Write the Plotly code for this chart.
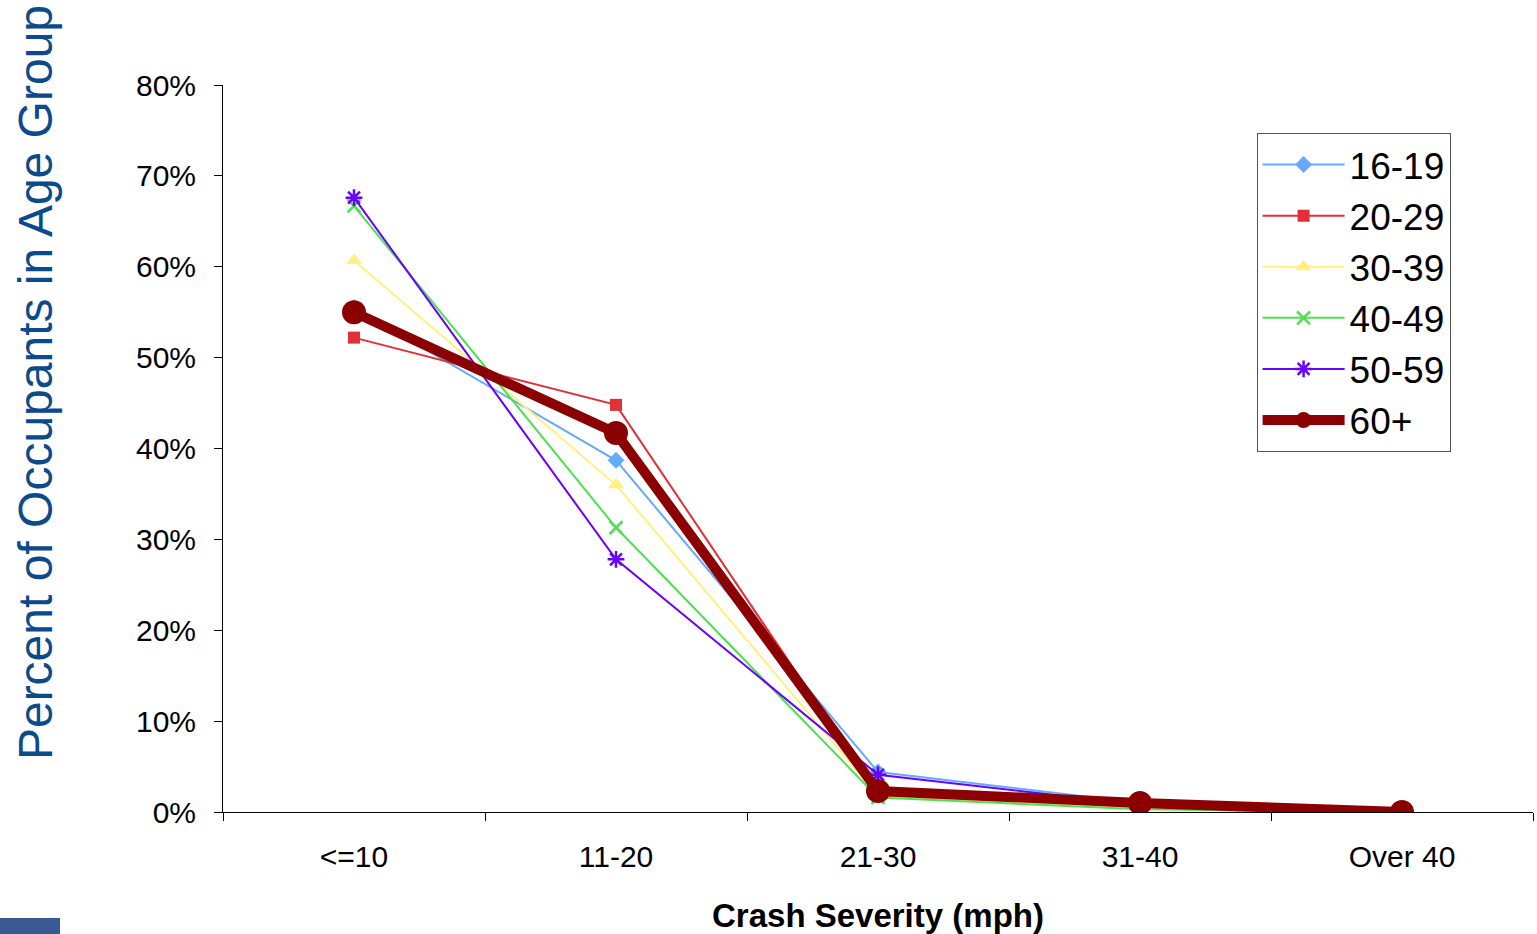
import plotly.graph_objects as go

categories = ["<=10", "11-20", "21-30", "31-40", "Over 40"]
s_16_19 = [55.5, 38.7, 4.4, 1.0, 0.0]
s_20_29 = [52.2, 44.8, 2.0, 0.5, 0.0]
s_30_39 = [60.7, 36.0, 1.8, 0.4, 0.0]
s_40_49 = [66.7, 31.3, 1.6, 0.3, 0.0]
s_50_59 = [67.6, 27.8, 4.1, 0.8, 0.0]
s_60_plus = [55.0, 41.7, 2.3, 1.0, 0.0]

y_ticks = [0, 10, 20, 30, 40, 50, 60, 70, 80]
y_tick_labels = ["0%", "10%", "20%", "30%", "40%", "50%", "60%", "70%", "80%"]

series = [
    ("16-19", s_16_19, "#66AAFF", "diamond", 2, 13),
    ("20-29", s_20_29, "#E03038", "square", 2, 12),
    ("30-39", s_30_39, "#FFF080", "triangle-up", 2, 14),
    ("40-49", s_40_49, "#4FE04F", "x-thin-open", 2, 13),
    ("50-59", s_50_59, "#6A00FF", "asterisk-open", 2, 14),
    ("60+", s_60_plus, "#8B0000", "circle", 10, 24),
]

fig = go.Figure()
for name, vals, color, sym, lw, ms in series:
    marker = dict(symbol=sym, size=ms, color=color)
    if sym.endswith("-open"):
        marker["line"] = dict(color=color, width=2.5)
    fig.add_trace(go.Scatter(
        x=categories, y=vals, name=name, mode="lines+markers",
        line=dict(color=color, width=lw), marker=marker,
    ))

fig.update_layout(
    width=1537, height=934,
    margin=dict(l=223, r=4, t=85, b=122),
    plot_bgcolor="white", paper_bgcolor="white",
    font=dict(family="Liberation Sans, Arial, sans-serif", color="black", size=30),
    showlegend=True,
    legend=dict(
        x=0.789, y=0.934, xanchor="left", yanchor="top",
        bordercolor="#555555", borderwidth=1, bgcolor="white",
        font=dict(size=37), itemwidth=82,
    ),
    xaxis=dict(
        type="category", range=[-0.5, 4.5], tickson="boundaries",
        ticks="outside", ticklen=8, tickcolor="black",
        showline=True, linecolor="black", linewidth=1, showgrid=False,
        tickfont=dict(size=30), ticklabelstandoff=18,
    ),
    yaxis=dict(
        range=[0, 80], tickvals=y_ticks, ticktext=y_tick_labels,
        ticks="outside", ticklen=8, tickcolor="black",
        showline=True, linecolor="black", linewidth=1, showgrid=False,
        zeroline=False, tickfont=dict(size=30), ticklabelstandoff=12,
    ),
    annotations=[
        dict(text="Percent of Occupants in Age Group", textangle=-90,
             xref="paper", yref="paper", x=-0.1435, y=0.59,
             xanchor="center", yanchor="middle", showarrow=False,
             font=dict(size=48, color="#0B4A8B")),
        dict(text="<b>Crash Severity (mph)</b>",
             xref="paper", yref="paper", x=0.5, y=-0.1417,
             xanchor="center", yanchor="middle", showarrow=False,
             font=dict(size=33, color="black")),
    ],
    shapes=[
        dict(type="rect", xref="paper", yref="paper",
             x0=-223/1310, x1=(60-223)/1310, y0=(812-918)/727, y1=-122/727,
             fillcolor="#3A5894", line=dict(width=0)),
    ],
)

fig.write_html("out.html")
